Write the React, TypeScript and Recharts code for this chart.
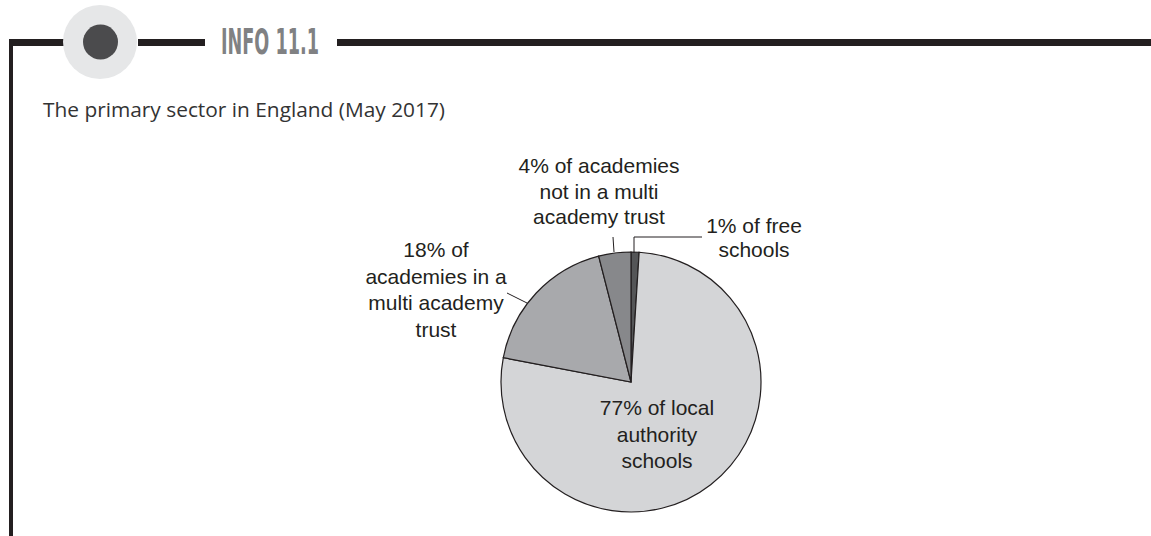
import React from "react";
import { PieChart, Pie, Cell } from "recharts";

const categories = [
  "free schools",
  "local authority schools",
  "academies in a multi academy trust",
  "academies not in a multi academy trust",
];
const shares = [1, 77, 18, 4];
const labelLines = [
  ["1% of free", "schools"],
  ["77% of local", "authority", "schools"],
  ["18% of", "academies in a", "multi academy", "trust"],
  ["4% of academies", "not in a multi", "academy trust"],
];
const sliceColors = ["#545557", "#d4d5d7", "#a8a9ac", "#87888b"];
const headerLabel = "INFO 11.1";
const chartTitle = "The primary sector in England (May 2017)";

const data = categories.map((name, i) => ({ name, value: shares[i], lines: labelLines[i] }));

// label layout offsets relative to pie centre (layout only)
const labelLayout = [
  { x: 123, y: -149, gap: 24, leader: [[3, -129], [3, -145], [71, -145]] },
  { x: 26, y: 33, gap: 26.5, leader: null },
  { x: -195, y: -125, gap: 26.5, leader: [[-104, -79], [-124, -89]] },
  { x: -32, y: -209, gap: 25.5, leader: [[-17, -130], [-18, -145]] },
];

const INK = "#231f20";

const renderLabel = (props: any) => {
  const { cx, cy, index } = props;
  const l = labelLayout[index];
  const lines: string[] = data[index].lines;
  return (
    <g key={"lbl" + index}>
      {l.leader && (
        <polyline
          points={l.leader.map((p) => `${cx + p[0]},${cy + p[1]}`).join(" ")}
          fill="none"
          stroke={INK}
          strokeWidth={1}
        />
      )}
      <text
        x={cx + l.x}
        y={cy + l.y}
        textAnchor="middle"
        fill={INK}
        fontFamily="'Liberation Sans', Arial, sans-serif"
        fontSize={21}
      >
        {lines.map((t, i) => (
          <tspan key={i} x={cx + l.x} dy={i === 0 ? 0 : l.gap}>
            {t}
          </tspan>
        ))}
      </text>
    </g>
  );
};

export default function App() {
  return (
    <div style={{ position: "absolute", left: 0, top: 0, width: 1151, height: 536, background: "#fff" }}>
      <svg width={1151} height={536} style={{ position: "absolute", left: 0, top: 0 }}>
        <rect x={9} y={39} width={4} height={497} fill={INK} />
        <rect x={9} y={39} width={56} height={7} fill={INK} />
        <circle cx={100} cy={42} r={37} fill="#e6e7e8" />
        <circle cx={100.5} cy={42} r={17.5} fill="#4b4b4d" />
        <rect x={138} y={39} width={67} height={7} fill={INK} />
        <text
          x={221}
          y={54}
          textLength={98}
          lengthAdjust="spacingAndGlyphs"
          fontFamily="'DejaVu Sans', sans-serif"
          fontWeight="bold"
          fontSize={35}
          fill="#808183"
        >
          {headerLabel}
        </text>
        <rect x={337} y={39} width={814} height={7} fill={INK} />
        <text
          x={43}
          y={117}
          fontFamily="'Open Sans', sans-serif"
          fontSize={20}
          textLength={402}
          lengthAdjust="spacingAndGlyphs"
          fill="#333"
        >
          {chartTitle}
        </text>
      </svg>
      <div style={{ position: "absolute", left: 0, top: 0 }}>
        <PieChart width={1151} height={536} margin={{ top: 0, right: 0, bottom: 0, left: 0 }}>
          <Pie
            data={data}
            dataKey="value"
            nameKey="name"
            cx={631}
            cy={382}
            outerRadius={130}
            startAngle={90}
            endAngle={-270}
            stroke={INK}
            strokeWidth={1.2}
            label={renderLabel}
            labelLine={false}
            isAnimationActive={false}
          >
            {data.map((d, i) => (
              <Cell key={d.name} fill={sliceColors[i]} />
            ))}
          </Pie>
        </PieChart>
      </div>
    </div>
  );
}
